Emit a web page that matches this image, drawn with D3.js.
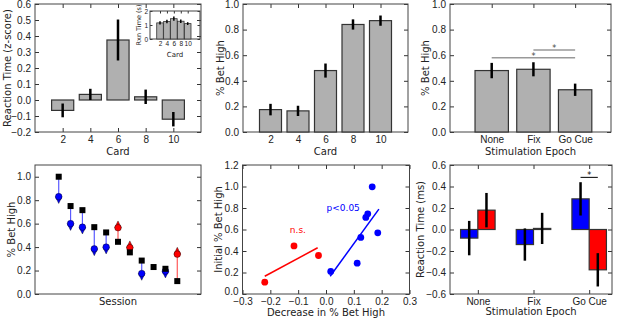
<!DOCTYPE html>
<html lang="en">
<head>
<meta charset="utf-8">
<title>Stimulation and betting behaviour</title>
<script src="https://d3js.org/d3.v7.min.js"></script>
<style>
  body { margin: 0; background: #fff; }
  svg { display: block; font-family: "DejaVu Sans", sans-serif; }
  .tick text { font-size: 10px; fill: #222; }
  .tick line { stroke: #333; }
  .frame { fill: none; stroke: #444; stroke-width: 1; }
  .label { font-size: 10px; fill: #222; }
  .inset .tick text { font-size: 6.5px; }
</style>
</head>
<body>
<script>
// Data
const cards = [2, 4, 6, 8, 10];
const rtZ = [-0.065, 0.035, 0.375, 0.02, -0.12];
const rtZErr = [0.043, 0.035, 0.128, 0.045, 0.045];
const rtSec = [1.15, 1.25, 1.45, 1.27, 1.1];
const rtSecErr = [0.12, 0.13, 0.15, 0.12, 0.1];
const betHigh = [0.175, 0.165, 0.48, 0.84, 0.87];
const betHighErr = [0.045, 0.04, 0.055, 0.04, 0.04];

const epochs = ["None", "Fix", "Go Cue"];
const epochBet = [0.48, 0.49, 0.33];
const epochBetErr = [0.06, 0.055, 0.048];

const sessions = [1, 2, 3, 4, 5, 6, 7, 8, 9, 10, 11];
const initBet = [1.0, 0.75, 0.715, 0.57, 0.525, 0.445, 0.355, 0.285, 0.23, 0.215, 0.11];
const stimBet = [0.83, 0.60, 0.57, 0.385, 0.40, 0.565, 0.395, 0.175, 0.23, 0.195, 0.34];

const decX = [-0.22, -0.115, -0.027, 0.017, 0.112, 0.125, 0.143, 0.15, 0.166, 0.186];
const decY = [0.11, 0.447, 0.358, 0.21, 0.287, 0.526, 0.712, 0.746, 0.997, 0.569];
const decGroup = ["red", "red", "red", "blue", "blue", "blue", "blue", "blue", "blue", "blue"];
const redFit = [[-0.22, 0.165], [-0.03, 0.43]];
const blueFit = [[0.015, 0.165], [0.19, 0.79]];

const rtBlue = [-0.08, -0.14, 0.285];
const rtBlueErr = [0.16, 0.15, 0.155];
const rtRed = [0.18, 0.01, -0.375];
const rtRedErr = [0.16, 0.145, 0.155];

const svg = d3.select("body").append("svg").attr("width", 617).attr("height", 318);

// axes box with inward ticks on all four sides
function panel(x, y, xt, yt, xf, yf, cls) {
  const g = svg.append("g").attr("class", cls || "");
  const [x0, x1] = x.range(), [y0, y1] = [y.range()[0], y.range()[1]];
  const tk = cls === "inset" ? 2.5 : 4;
  const pad = cls === "inset" ? 2 : 4;
  const ax = (a) => a.tickSizeInner(-tk).tickSizeOuter(0).tickPadding(pad);
  g.append("g").attr("class", "yaxis").attr("transform", `translate(${x0},0)`)
    .call(ax(d3.axisLeft(y).tickValues(yt).tickFormat(yf)));
  g.append("g").attr("transform", `translate(${x1},0)`)
    .call(ax(d3.axisRight(y).tickValues(yt).tickFormat("")));
  g.append("g").attr("transform", `translate(0,${y0})`)
    .call(ax(d3.axisBottom(x).tickValues(xt).tickFormat(xf)));
  g.append("g").attr("transform", `translate(0,${y1})`)
    .call(ax(d3.axisTop(x).tickValues(xt).tickFormat("")));
  g.selectAll(".domain").remove();
  g.append("rect").attr("class", "frame")
    .attr("x", x0).attr("y", y1).attr("width", x1 - x0).attr("height", y0 - y1);
  return g;
}

function ylabel(txt, cx, cy) {
  svg.append("text").attr("class", "label")
    .attr("transform", `translate(${cx},${cy}) rotate(-90)`)
    .attr("text-anchor", "middle").attr("dominant-baseline", "central").text(txt);
}
function xlabel(txt, cx, cy) {
  svg.append("text").attr("class", "label")
    .attr("x", cx).attr("y", cy)
    .attr("text-anchor", "middle").attr("dominant-baseline", "central").text(txt);
}

function bars(g, x, y, xs, vals, errs, w, fill, ew) {
  g.selectAll(null).data(vals).join("rect")
    .attr("x", (d, i) => x(xs[i] - w / 2))
    .attr("width", x(w) - x(0))
    .attr("y", d => y(Math.max(d, 0)))
    .attr("height", d => Math.abs(y(d) - y(0)))
    .attr("fill", fill).attr("stroke", "#333").attr("stroke-width", ew ? 0.8 : 1.2);
  g.selectAll(null).data(vals).join("line")
    .attr("x1", (d, i) => x(xs[i])).attr("x2", (d, i) => x(xs[i]))
    .attr("y1", (d, i) => y(d - errs[i])).attr("y2", (d, i) => y(d + errs[i]))
    .attr("stroke", "#000").attr("stroke-width", ew || 2.5);
}

const fmt1 = d3.format(".1f");
const topY = [132, 4], botY = [294, 165];

// A: reaction time z-score by card
{
  const x = d3.scaleLinear().domain([0, 12]).range([35, 201]);
  const y = d3.scaleLinear().domain([-0.2, 0.6]).range(topY);
  const g = panel(x, y, cards, d3.range(-0.2, 0.61, 0.1), d3.format("d"), fmt1);
  bars(g, x, y, cards, rtZ, rtZErr, 1.6, "#b0b0b0");
  ylabel("Reaction Time (z-score)", 7, 68);
  xlabel("Card", 118, 151.5);

  // inset
  const xi = d3.scaleLinear().domain([-0.89, 13.55]).range([150, 200]);
  const yi = d3.scaleLinear().domain([0, 2]).range([39, 11]);
  const gi = panel(xi, yi, cards, [0, 1, 2], d3.format("d"), d3.format("d"), "inset");
  bars(gi, xi, yi, cards, rtSec, rtSecErr, 1.9, "#b0b0b0", 1.5);
  svg.append("text").attr("transform", "translate(139,25) rotate(-90)")
    .attr("text-anchor", "middle").attr("dominant-baseline", "central")
    .attr("font-size", "6.5px").attr("fill", "#222").text("Rxn Time (s)");
  svg.append("text").attr("x", 175).attr("y", 54.5)
    .attr("text-anchor", "middle").attr("dominant-baseline", "central")
    .attr("font-size", "7px").attr("fill", "#222").text("Card");
}

// B: % bet high by card
{
  const x = d3.scaleLinear().domain([0, 12]).range([243, 408]);
  const y = d3.scaleLinear().domain([0, 1]).range(topY);
  const g = panel(x, y, cards, d3.range(0, 1.01, 0.2), d3.format("d"), fmt1);
  bars(g, x, y, cards, betHigh, betHighErr, 1.6, "#b0b0b0");
  ylabel("% Bet High", 220, 68);
  xlabel("Card", 325.5, 151.5);
}

// C: % bet high by stimulation epoch
{
  const x = d3.scaleLinear().domain([-1, 2.86]).range([450, 611]);
  const y = d3.scaleLinear().domain([0, 1]).range(topY);
  const idx = [0, 1, 2];
  const g = panel(x, y, idx, d3.range(0, 1.01, 0.2), i => epochs[i], fmt1);
  bars(g, x, y, idx, epochBet, epochBetErr, 0.8, "#b0b0b0");
  // significance
  const sig = [[1, 2, 0.64], [0, 2, 0.58]];
  sig.forEach(([a, b, v]) => {
    g.append("line").attr("x1", x(a)).attr("x2", x(b)).attr("y1", y(v)).attr("y2", y(v))
      .attr("stroke", "#999").attr("stroke-width", 1.5);
    g.append("text").attr("x", x((a + b) / 2)).attr("y", y(v) + 1)
      .attr("text-anchor", "middle").attr("font-size", "8px").attr("fill", "#444").text("*");
  });
  ylabel("% Bet High", 425, 68);
  xlabel("Stimulation Epoch", 530.5, 151.5);
}

// D: session by session change
{
  const x = d3.scaleLinear().domain([-1, 13]).range([35, 201]);
  const y = d3.scaleLinear().domain([0, 1.1]).range(botY);
  const g = panel(x, y, [], d3.range(0, 1.01, 0.2), "", fmt1);
  sessions.forEach((s, i) => {
    const diff = stimBet[i] - initBet[i];
    if (diff === 0) return;
    const col = diff < 0 ? "#0000ff" : "#ff0000";
    const dir = diff < 0 ? 1 : -1;
    g.append("line").attr("x1", x(s)).attr("x2", x(s))
      .attr("y1", y(initBet[i])).attr("y2", y(stimBet[i]))
      .attr("stroke", diff < 0 ? "#5a5aff" : "#ff5a5a").attr("stroke-width", 1.2);
    const cx = x(s), cy = y(stimBet[i]);
    g.append("path")
      .attr("d", `M${cx - 3.3},${cy} L${cx + 3.3},${cy} L${cx},${cy + dir * 6.8} Z`)
      .attr("fill", col).attr("stroke", "#000").attr("stroke-width", 0.4);
    g.append("circle").attr("cx", cx).attr("cy", cy).attr("r", 3.3)
      .attr("fill", col).attr("stroke", "#000").attr("stroke-width", 0.4);
  });
  g.selectAll(null).data(sessions).join("rect")
    .attr("x", d => x(d) - 3).attr("y", (d, i) => y(initBet[i]) - 3)
    .attr("width", 6).attr("height", 6).attr("fill", "#000");
  ylabel("% Bet High", 11, 229.5);
  xlabel("Session", 118, 301);
}

// E: initial vs decrease
{
  const x = d3.scaleLinear().domain([-0.3, 0.3]).range([242.5, 409.5]);
  const y = d3.scaleLinear().domain([0, 1.2]).range(botY);
  const g = panel(x, y, d3.range(-0.3, 0.31, 0.1), d3.range(0, 1.21, 0.2), fmt1, fmt1);
  // lift the corner label a little so it clears the x tick label
  g.select(".yaxis").selectAll(".tick text").filter(d => Math.abs(d) < 1e-9).attr("dy", "0.05em");
  const line = d3.line().x(d => x(d[0])).y(d => y(d[1]));
  g.append("path").attr("d", line(redFit)).attr("stroke", "#ff0000").attr("stroke-width", 1.5).attr("fill", "none");
  g.append("path").attr("d", line(blueFit)).attr("stroke", "#0000ff").attr("stroke-width", 1.5).attr("fill", "none");
  g.selectAll(null).data(decX).join("circle")
    .attr("cx", d => x(d)).attr("cy", (d, i) => y(decY[i])).attr("r", 3.4)
    .attr("fill", (d, i) => decGroup[i] === "red" ? "#ff0000" : "#0000ff");
  g.append("text").attr("x", x(-0.13)).attr("y", y(0.57)).attr("font-size", "9px")
    .attr("fill", "#ff0000").text("n.s.");
  g.append("text").attr("x", x(0.002)).attr("y", y(0.77)).attr("font-size", "9px")
    .attr("fill", "#0000ff").text("p<0.05");
  ylabel("Initial % Bet High", 218, 229.5);
  xlabel("Decrease in % Bet High", 326, 312.5);
}

// F: reaction time by stimulation epoch, split
{
  const x = d3.scaleLinear().domain([-0.5, 2.41]).range([450, 612]);
  const y = d3.scaleLinear().domain([-0.6, 0.6]).range(botY);
  const idx = [0, 1, 2];
  const g = panel(x, y, idx, d3.range(-0.6, 0.61, 0.2), i => epochs[i], fmt1);
  const w = 0.31;
  bars(g, x, y, idx.map(i => i - w / 2), rtBlue, rtBlueErr, w, "#0000ff");
  bars(g, x, y, idx.map(i => i + w / 2), rtRed, rtRedErr, w, "#ff0000");
  g.append("line").attr("x1", x(2 - w / 2)).attr("x2", x(2 + w / 2))
    .attr("y1", y(0.485)).attr("y2", y(0.485)).attr("stroke", "#000").attr("stroke-width", 1);
  g.append("text").attr("x", x(2)).attr("y", y(0.485) + 1).attr("text-anchor", "middle")
    .attr("font-size", "8px").attr("fill", "#000").text("*");
  ylabel("Reaction Time (ms)", 420, 229.5);
  xlabel("Stimulation Epoch", 531, 311.5);
}
</script>
</body>
</html>
